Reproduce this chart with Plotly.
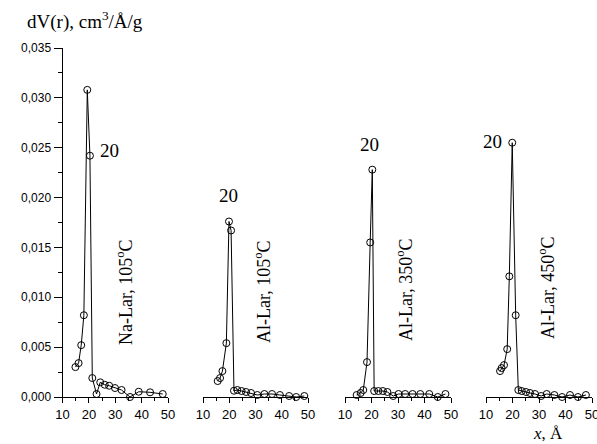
import plotly.graph_objects as go

W, H = 597, 444

# ---- data ----
na105_x = [14.9, 16.1, 17.1, 18.1, 19.4, 20.4, 21.3, 22.9, 24.3, 26.0, 27.7, 29.9, 32.4, 35.6, 38.9, 43.2, 48.0]
na105_y = [0.0030, 0.0034, 0.0052, 0.0082, 0.0308, 0.0242, 0.0019, 0.0003, 0.00147, 0.00123, 0.00113, 0.0009, 0.0007, 0.0, 0.00053, 0.00047, 0.0003]

al105_x = [15.6, 16.5, 17.4, 18.9, 19.9, 20.7, 21.8, 23.1, 24.7, 26.4, 28.3, 30.7, 33.4, 36.3, 39.3, 42.8, 45.5, 48.6]
al105_y = [0.0016, 0.0019, 0.0026, 0.0054, 0.0176, 0.0167, 0.00063, 0.0007, 0.0006, 0.0005, 0.0004, 0.0002, 0.0003, 0.0003, 0.0002, 0.0001, 0.0, 0.0001]

al350_x = [14.4, 15.9, 16.9, 18.3, 19.5, 20.3, 21.0, 22.6, 24.3, 26.0, 28.2, 30.2, 32.7, 35.5, 38.4, 41.8, 45.0, 47.9]
al350_y = [0.0002, 0.0004, 0.0007, 0.0035, 0.0155, 0.0228, 0.0006, 0.0006, 0.0006, 0.0005, 0.0001, 0.0003, 0.0003, 0.0003, 0.0003, 0.0003, 0.0, 0.0003]

al450_x = [15.3, 15.9, 16.8, 18.0, 18.8, 19.9, 21.2, 22.2, 23.5, 25.1, 26.6, 28.5, 30.8, 32.9, 35.8, 38.7, 41.7, 44.7, 47.7]
al450_y = [0.0026, 0.0029, 0.0032, 0.0048, 0.0121, 0.0255, 0.0082, 0.0007, 0.0006, 0.0005, 0.0004, 0.0003, 0.0001, 0.0003, 0.0002, 0.0, 0.0002, 0.0, 0.0002]

series = [(na105_x, na105_y), (al105_x, al105_y), (al350_x, al350_y), (al450_x, al450_y)]
panel_labels = ["Na-Lar, 105<sup>o</sup>C", "Al-Lar, 105<sup>o</sup>C", "Al-Lar, 350<sup>o</sup>C", "Al-Lar, 450<sup>o</sup>C"]

y_tickvals = [0.0, 0.005, 0.010, 0.015, 0.020, 0.025, 0.030, 0.035]
y_ticktext = ["0,000", "0,005", "0,010", "0,015", "0,020", "0,025", "0,030", "0,035"]
x_tickvals = [10, 20, 30, 40, 50]

# ---- layout helpers (pixel geometry) ----
def px(x):
    return x / W

def py(y):
    return 1 - y / H

x_domains_px = [(62.5, 168), (203, 308), (345, 451), (486, 592)]
y_top, y_bot = 48, 397

fig = go.Figure()
axnames = ["x", "x2", "x3", "x4"]
for i, (xs, ys) in enumerate(series):
    fig.add_trace(go.Scatter(
        x=xs, y=ys, xaxis=axnames[i], yaxis="y", mode="lines+markers",
        line=dict(color="black", width=1),
        marker=dict(symbol="circle-open", size=7, color="black", line=dict(width=1)),
        cliponaxis=False, showlegend=False,
    ))

tickfont = dict(family="Liberation Sans, Arial", size=13, color="black")
for i, (a, b) in enumerate(x_domains_px):
    key = "xaxis" if i == 0 else f"xaxis{i+1}"
    fig.layout[key] = dict(
        domain=[px(a), px(b)], range=[10, 50], anchor="y", automargin=False,
        tickvals=x_tickvals, ticks="outside", ticklen=5, tickwidth=1,
        tickcolor="black", showline=True, linecolor="black", linewidth=1,
        showgrid=False, zeroline=False, tickfont=tickfont,
        ticklabeloverflow="allow",
        minor=dict(ticks="outside", dtick=5, tick0=10, ticklen=3, tickcolor="black", showgrid=False),
    )

fig.update_layout(
    yaxis=dict(
        domain=[py(y_bot), py(y_top)], range=[0, 0.035], anchor="x", automargin=False,
        tickvals=y_tickvals, ticktext=y_ticktext, ticks="outside", ticklen=8,
        tickcolor="black", showline=True, linecolor="black", linewidth=1,
        showgrid=False, zeroline=False,
        tickfont=dict(family="Liberation Sans, Arial", size=12, color="black"),
        minor=dict(ticks="outside", dtick=0.0025, tick0=0, ticklen=4, tickcolor="black", showgrid=False),
    ),
    width=W, height=H, margin=dict(l=0, r=0, t=0, b=0, autoexpand=False),
    paper_bgcolor="white", plot_bgcolor="white",
)

serif = dict(family="Liberation Serif, Times New Roman", size=19, color="black")
serif_lbl = dict(family="Liberation Serif, Times New Roman", size=18, color="black")
anns = []

def ann(x, y, text, font, angle=0):
    anns.append(dict(x=px(x), y=py(y), xref="paper", yref="paper", text=text,
                     xanchor="center", yanchor="middle", textangle=angle,
                     showarrow=False, font=font))

# "20" labels
for (x, y) in [(109, 150), (228, 196), (369, 144), (493, 141)]:
    ann(x, y, "20", serif)
# rotated sample labels
for (x, y), t in zip([(124, 292), (262, 292), (404, 290), (546, 288)], panel_labels):
    ann(x, y, t, serif_lbl, -90)
# axis titles
ann(85, 21, "dV(r), cm<sup>3</sup>/Å/g", dict(family="Liberation Serif, Times New Roman", size=19, color="black"))
ann(548, 433, "<i>x</i>, Å", dict(family="Liberation Serif, Times New Roman", size=17, color="black"))
fig.update_layout(annotations=anns)

fig.write_html("out.html")
